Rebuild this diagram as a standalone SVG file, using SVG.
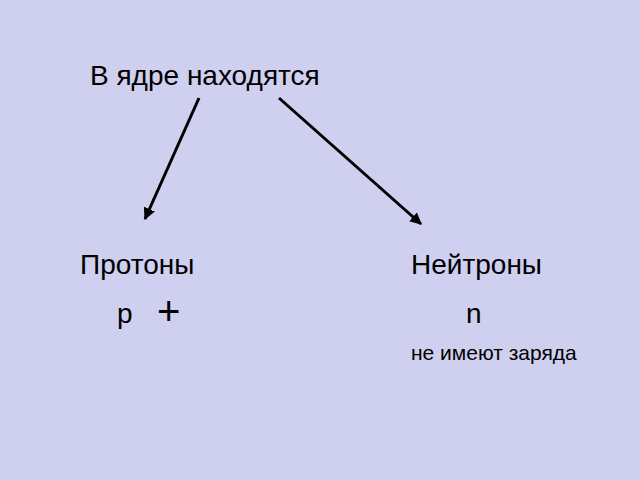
<svg xmlns="http://www.w3.org/2000/svg" width="640" height="480" viewBox="0 0 640 480">
<style>
text{font-family:"Liberation Sans",Arial,sans-serif;fill:#000}
.c{stroke:#000;stroke-width:3;fill:none;marker-end:url(#ah)}
</style>
<defs>
<marker id="ah" viewBox="0 0 10 10" refX="9" refY="5" markerWidth="4" markerHeight="4" orient="auto" markerUnits="strokeWidth">
<path d="M0,0 L10,5 L0,10 z" fill="#000"/>
</marker>
</defs>
<rect width="640" height="480" fill="#CFCFEF"/>
<g id="root"><text x="90" y="85" font-size="28">В ядре находятся</text></g>
<g id="protons">
<text x="80" y="274" font-size="28">Протоны</text>
<text x="117" y="323" font-size="28">p</text>
<text x="157" y="325" font-size="40">+</text>
</g>
<g id="neutrons">
<text x="411" y="274" font-size="28">Нейтроны</text>
<text x="466" y="323" font-size="28">n</text>
<text x="411" y="360" font-size="21">не имеют заряда</text>
</g>
<g id="connectors">
<line class="c" x1="199" y1="98" x2="145" y2="219"/>
<line class="c" x1="279" y1="98" x2="421" y2="224"/>
</g>
</svg>
